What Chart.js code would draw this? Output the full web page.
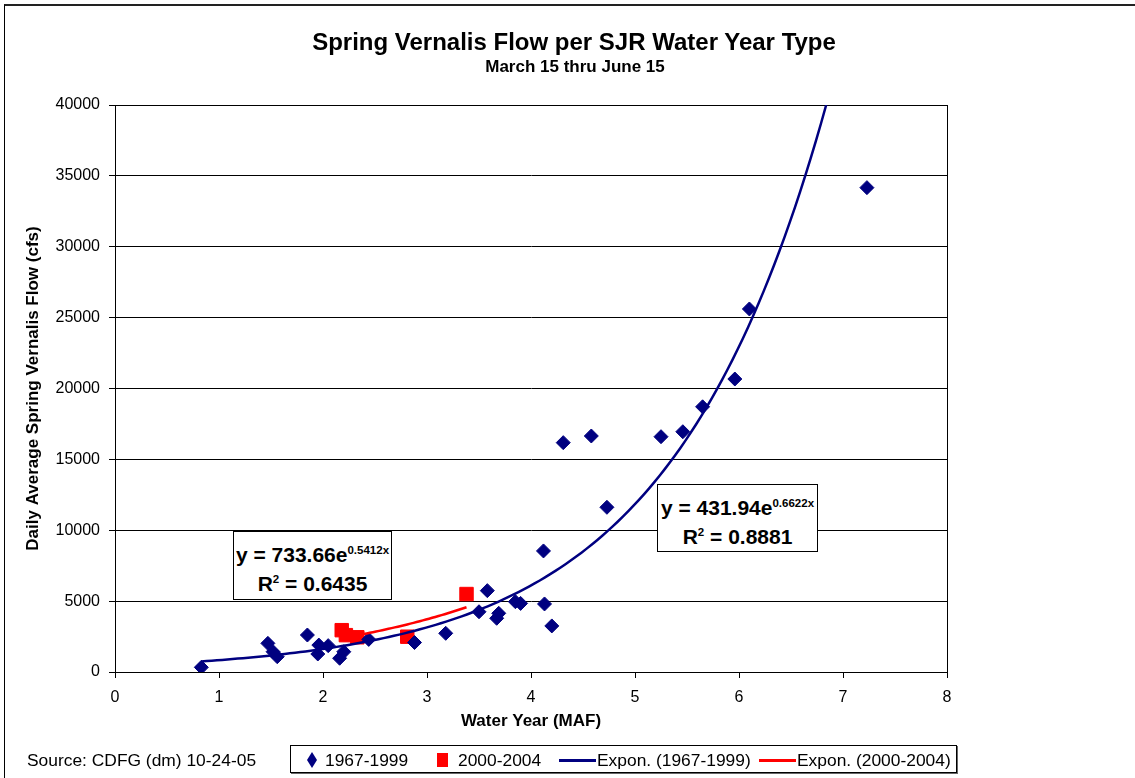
<!DOCTYPE html>
<html>
<head>
<meta charset="utf-8">
<script src="https://cdn.jsdelivr.net/npm/chart.js@4.4.0/dist/chart.umd.min.js"></script>
<style>
html,body{margin:0;padding:0;background:#fff;}
#wrap{position:relative;width:1135px;height:778px;overflow:hidden;font-family:'Liberation Sans',Arial,sans-serif;color:#000;}
#frame{position:absolute;left:4px;top:4px;width:2000px;height:2000px;border-left:1.5px solid #000;border-top:2px solid #222;}
canvas{position:absolute;left:0;top:0;}
.t{position:absolute;white-space:nowrap;}
#title{left:0;width:1148px;text-align:center;top:28px;font-weight:bold;font-size:24px;line-height:28px;}
#subtitle{left:0;width:1150px;text-align:center;top:57px;font-weight:bold;font-size:17px;line-height:20px;}
.eq{position:absolute;box-sizing:border-box;border:1px solid #000;background:#fff;font-weight:bold;font-size:21px;line-height:29px;text-align:center;padding-top:8px;white-space:nowrap;}
.eq sup{font-size:11.5px;line-height:0;vertical-align:8px;}
#legend{position:absolute;left:290px;top:745px;width:667px;height:28px;box-sizing:border-box;border:1px solid #000;background:#fff;box-shadow:1px 1px 0 #666;}
.lg{position:absolute;top:750px;font-size:17.4px;line-height:20px;white-space:nowrap;}
.mk{position:absolute;}
</style>
</head>
<body>
<div id="wrap">
  <div id="frame"></div>
  <canvas id="c" width="1135" height="778"></canvas>
  <div class="t" id="title">Spring Vernalis Flow per SJR Water Year Type</div>
  <div class="t" id="subtitle">March 15 thru June 15</div>
  <div class="eq" style="left:233px;top:531px;width:159px;height:69px;">
    <div id="eqRedLine1"></div>
    <div id="eqRedLine2"></div>
  </div>
  <div class="eq" style="left:657px;top:484px;width:161px;height:68px;">
    <div id="eqBlueLine1"></div>
    <div id="eqBlueLine2"></div>
  </div>
  <div class="t lg" style="left:27px;">Source: CDFG (dm) 10-24-05</div>
  <div id="legend"></div>
  <svg class="mk" style="left:307px;top:752px;" width="10" height="16"><polygon points="5,0 10,8 5,16 0,8" fill="#000080"/></svg>
  <div class="t lg" style="left:325px;" id="lg1"></div>
  <div class="mk" style="left:437px;top:753px;width:11px;height:14px;background:#ff0000;"></div>
  <div class="t lg" style="left:458px;" id="lg2"></div>
  <div class="mk" style="left:559px;top:759px;width:37px;height:3px;background:#000080;"></div>
  <div class="t lg" style="left:597px;" id="lg3"></div>
  <div class="mk" style="left:759px;top:759px;width:37px;height:3px;background:#ff0000;"></div>
  <div class="t lg" style="left:797px;" id="lg4"></div>
</div>
<script>
// ---- data ----
const seriesNames = ['1967-1999', '2000-2004', 'Expon. (1967-1999)', 'Expon. (2000-2004)'];

const blueX = [0.83, 1.47, 1.52, 1.56, 1.85, 1.95, 1.96, 2.05, 2.16, 2.20, 2.44, 2.88, 3.18, 3.50, 3.58, 3.67, 3.69, 3.85, 3.90, 4.12, 4.13, 4.20, 4.31, 4.58, 4.73, 5.25, 5.46, 5.65, 5.96, 6.10, 7.23];
const blueY = [330, 2020, 1430, 1080, 2610, 1270, 1900, 1860, 970, 1430, 2300, 2080, 2730, 4250, 5740, 3790, 4140, 4960, 4840, 8540, 4800, 3250, 16180, 16650, 11620, 16600, 16950, 18710, 20670, 25610, 34170];

const redX = [2.18, 2.22, 2.33, 2.81, 3.38];
const redY = [2950, 2600, 2450, 2490, 5500];

// trendline equations shown on the chart (Excel exponential fits)
const blueFitA = 431.94, blueFitB = 0.6622, blueFitR2 = '0.8881';
const redFitA = 733.66, redFitB = 0.5412, redFitR2 = '0.6435';

const xTicks = [0, 1, 2, 3, 4, 5, 6, 7, 8];
const yTicks = [0, 5000, 10000, 15000, 20000, 25000, 30000, 35000, 40000];

// ---- text ----
document.getElementById('lg1').textContent = seriesNames[0];
document.getElementById('lg2').textContent = seriesNames[1];
document.getElementById('lg3').textContent = seriesNames[2];
document.getElementById('lg4').textContent = seriesNames[3];
document.getElementById('eqRedLine1').innerHTML = 'y = ' + redFitA.toFixed(2) + 'e<sup>' + redFitB + 'x</sup>';
document.getElementById('eqRedLine2').innerHTML = 'R<sup>2</sup> = ' + redFitR2;
document.getElementById('eqBlueLine1').innerHTML = 'y = ' + blueFitA.toFixed(2) + 'e<sup>' + blueFitB + 'x</sup>';
document.getElementById('eqBlueLine2').innerHTML = 'R<sup>2</sup> = ' + blueFitR2;

// ---- build datasets ----
const bluePts = blueX.map((x, i) => ({x: x, y: blueY[i]}));
const redPts = redX.map((x, i) => ({x: x, y: redY[i]}));

function fitCurve(a, b, x0, x1, n) {
  const pts = [];
  for (let i = 0; i <= n; i++) {
    const x = x0 + (x1 - x0) * i / n;
    pts.push({x: x, y: a * Math.exp(b * x)});
  }
  return pts;
}
const yMax = yTicks[yTicks.length - 1];
const blueEnd = Math.min(Math.max(...blueX), Math.log(yMax / blueFitA) / blueFitB);
const blueTrend = fitCurve(blueFitA, blueFitB, Math.min(...blueX), blueEnd, 120);
const redTrend = fitCurve(redFitA, redFitB, Math.min(...redX), Math.max(...redX), 40);

const FONT = "'Liberation Sans', Arial, sans-serif";

const plotBorder = {
  id: 'plotBorder',
  beforeDatasetsDraw(chart) {
    const a = chart.chartArea, c = chart.ctx;
    c.save();
    c.strokeStyle = '#000';
    c.lineWidth = 1;
    c.strokeRect(Math.round(a.left) + 0.5, Math.round(a.top) + 0.5, Math.round(a.right - a.left), Math.round(a.bottom - a.top));
    c.restore();
  }
};

new Chart(document.getElementById('c').getContext('2d'), {
  type: 'scatter',
  data: {
    datasets: [
      {label: seriesNames[2], type: 'line', data: blueTrend, showLine: true, borderColor: '#000080', borderWidth: 2.5, pointRadius: 0, fill: false, tension: 0, order: 0},
      {label: seriesNames[3], type: 'line', data: redTrend, showLine: true, borderColor: '#ff0000', borderWidth: 2.5, pointRadius: 0, fill: false, tension: 0, order: 0},
      {label: seriesNames[0], data: bluePts, pointStyle: 'rectRot', pointRadius: 7, pointHoverRadius: 7, backgroundColor: '#000080', borderColor: '#000080', borderWidth: 1, order: 1},
      {label: seriesNames[1], data: redPts, pointStyle: 'rect', pointRadius: 9.5, pointHoverRadius: 9.5, backgroundColor: '#ff0000', borderColor: '#ff0000', borderWidth: 1, order: 1}
    ]
  },
  options: {
    responsive: false,
    animation: false,
    devicePixelRatio: 1,
    events: [],
    layout: {padding: {left: 23, top: 105, right: 188, bottom: 46}},
    plugins: {legend: {display: false}, tooltip: {enabled: false}, title: {display: false}},
    scales: {
      x: {
        type: 'linear', min: xTicks[0], max: xTicks[xTicks.length - 1],
        afterBuildTicks(s) { s.ticks = xTicks.map(v => ({value: v})); },
        afterFit(s) { s.height = 60; },
        ticks: {color: '#000', font: {family: FONT, size: 16}, padding: 10, callback: v => String(v)},
        grid: {drawOnChartArea: false, drawTicks: true, tickLength: 6, color: '#000'},
        border: {display: true, color: '#000', width: 1},
        title: {display: true, text: 'Water Year (MAF)', color: '#000', font: {family: FONT, size: 17, weight: 'bold'}, padding: 0}
      },
      y: {
        type: 'linear', min: yTicks[0], max: yMax,
        afterBuildTicks(s) { s.ticks = yTicks.map(v => ({value: v})); },
        afterFit(s) { s.width = 92; },
        ticks: {color: '#000', font: {family: FONT, size: 16}, padding: 9, callback: v => String(v)},
        grid: {drawOnChartArea: true, drawTicks: true, tickLength: 6, color: '#000'},
        border: {display: true, color: '#000', width: 1},
        title: {display: true, text: 'Daily Average Spring Vernalis Flow (cfs)', color: '#000', font: {family: FONT, size: 17, weight: 'bold'}, padding: 0}
      }
    }
  },
  plugins: [plotBorder]
});
</script>
</body>
</html>
